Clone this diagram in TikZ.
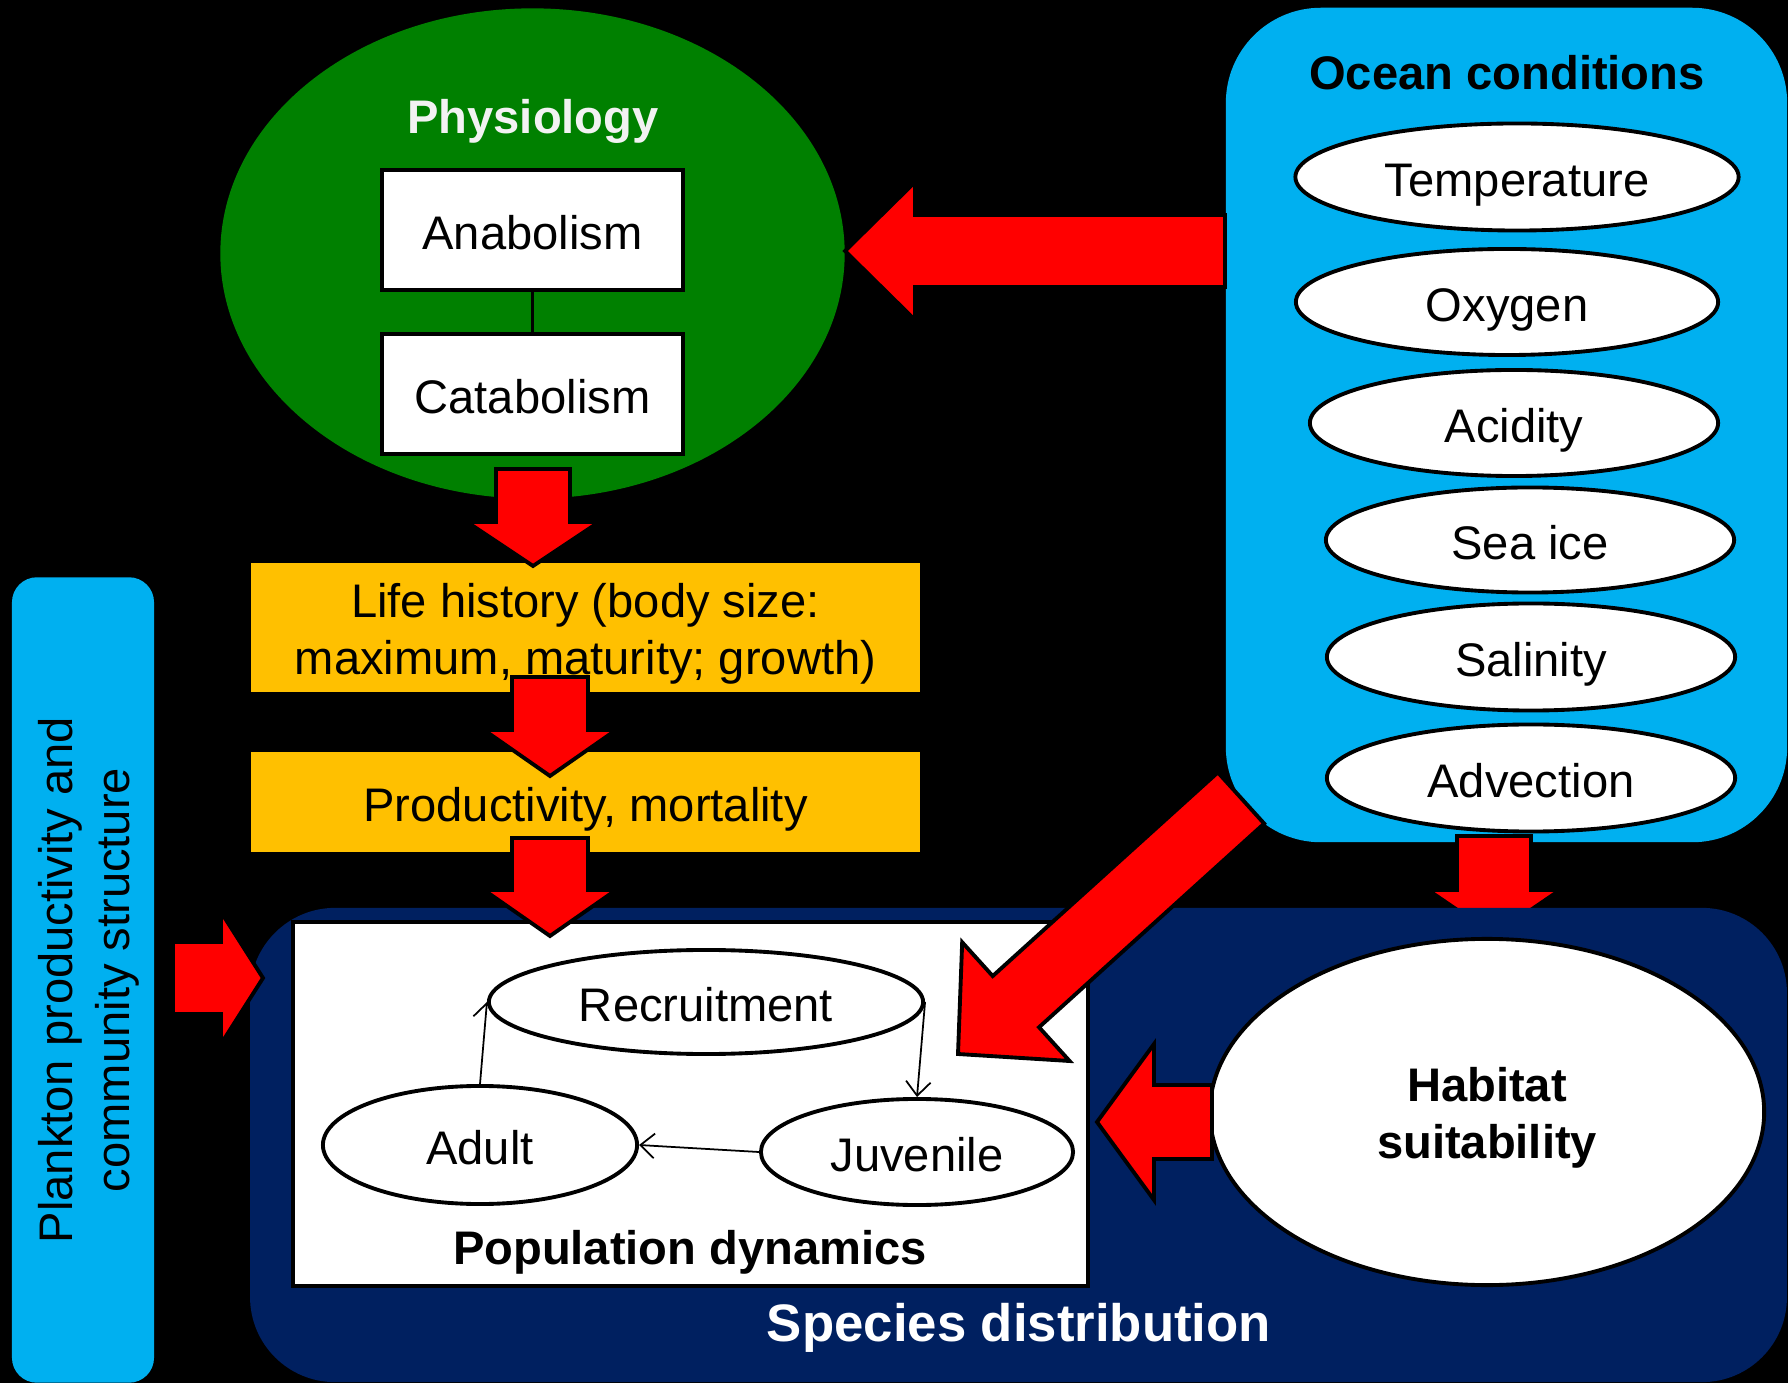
\documentclass[tikz,border=0pt]{standalone}
\usepackage{fontspec}
\setmainfont{Liberation Sans}
\usetikzlibrary{shapes.geometric,calc,arrows.meta}
\definecolor{phygreen}{RGB}{0,128,0}
\definecolor{oceanblue}{RGB}{0,176,240}
\definecolor{lifeyellow}{RGB}{255,192,0}
\definecolor{navyblue}{RGB}{0,32,96}
\definecolor{offwhite}{RGB}{242,242,242}
% block arrow: tail, tip, shaft half width, head half width, head length
\newcommand\blockarr[5]{%
  \coordinate (ba-h) at ($(#2)!#5!(#1)$);
  \path[redarrow] ($(#1)!#3!90:(#2)$) -- ($(ba-h)!#3!90:(#2)$) -- ($(ba-h)!#4!90:(#2)$) -- (#2)
    -- ($(ba-h)!#4!-90:(#2)$) -- ($(ba-h)!#3!-90:(#2)$) -- ($(#1)!#3!-90:(#2)$) -- cycle;
}
\tikzset{
  mtxt/.style={font=\fontsize{13.4}{16.2}\selectfont, inner sep=0pt},
  txt/.style={mtxt, text height=11pt, text depth=0pt},
  btxt/.style={font=\fontsize{13.4}{16.2}\selectfont\bfseries, inner sep=0pt, text height=11pt, text depth=0pt},
  whitebox/.style={draw=black, fill=white, line width=1.1pt, txt},
  oval/.style={ellipse, draw=black, fill=white, line width=1.1pt, txt},
  redarrow/.style={fill=red, draw=black, line width=1.1pt, line join=miter},
  smallarr/.style={-{Straight Barb[length=4pt,width=7pt]}, line width=0.5pt},
  yellowbox/.style={fill=lifeyellow, txt},
}
\begin{document}
\begin{tikzpicture}[x=0.01cm,y=-0.01cm]
\fill[black] (0,0) rectangle (1788,1383);
\useasboundingbox (0,0) rectangle (1788,1383);

% Physiology
\node[ellipse, fill=phygreen, minimum width=6.24cm, minimum height=4.90cm, inner sep=0pt] (phys) at (532.5,253.5) {};
\node[btxt, text=offwhite] (physl) at (533,114) {Physiology};
\node[whitebox, minimum width=3.01cm, minimum height=1.20cm] (ana) at (532.5,230) {Anabolism};
\node[whitebox, minimum width=3.01cm, minimum height=1.20cm] (cata) at (532.5,394) {Catabolism};
\draw[line width=1pt] (ana) -- (cata);

% Ocean conditions
\node[fill=oceanblue, rounded corners=0.95cm, minimum width=5.61cm, minimum height=8.34cm, inner sep=0pt] (ocean) at (1506.5,425) {};
\node[btxt] (oceanl) at (1507,70) {Ocean conditions};
\node[oval, minimum width=4.43cm, minimum height=1.07cm] (temp) at (1517,177) {Temperature};
\node[oval, minimum width=4.22cm, minimum height=1.06cm] (oxy) at (1507,302) {Oxygen};
\node[oval, minimum width=4.08cm, minimum height=1.06cm] (acid) at (1514,423) {Acidity};
\node[oval, minimum width=4.08cm, minimum height=1.05cm] (ice) at (1530,540) {Sea ice};
\node[oval, minimum width=4.08cm, minimum height=1.07cm] (sal) at (1531,657) {Salinity};
\node[oval, minimum width=4.08cm, minimum height=1.07cm] (adv) at (1531,778) {Advection};

% Life history & productivity
\node[yellowbox, minimum width=6.69cm, minimum height=1.29cm] (life) at (585.5,627.5) {};
\node[mtxt, align=center] (lifel) at (585.5,633.5) {Life history (body size:\\maximum, maturity; growth)};
\node[yellowbox, minimum width=6.69cm, minimum height=1.00cm] (prod) at (585.5,802) {Productivity, mortality};

% Plankton
\node[fill=oceanblue, rounded corners=0.25cm, minimum width=1.42cm, minimum height=8.05cm, inner sep=0pt] (plank) at (83,980) {};
\node[mtxt, rotate=90, align=center] (plankl) at (89,980) {Plankton productivity and\\community structure};

% Advection -> species distribution (behind the box)
\coordinate (a7t) at (1494,836);
\coordinate (a7h) at (1494,935);
\blockarr{a7t}{a7h}{0.37cm}{0.66cm}{0.45cm}

% Species distribution
\node[fill=navyblue, rounded corners=0.85cm, minimum width=15.36cm, minimum height=4.74cm, inner sep=0pt] (species) at (1018.5,1145) {};
\node[font=\fontsize{15}{18}\selectfont\bfseries, text=white, inner sep=0pt, text height=11pt, text depth=0pt] (speciesl) at (1019,1322) {Species distribution};

% Population dynamics
\node[whitebox, minimum width=7.95cm, minimum height=3.64cm] (pop) at (690.5,1104) {};
\node[btxt] (popl) at (690,1245) {Population dynamics};
\node[oval, minimum width=4.34cm, minimum height=1.04cm] (rec) at (706,1002) {Recruitment};
\node[oval, minimum width=3.14cm, minimum height=1.18cm] (adult) at (480,1145) {Adult};
\node[oval, minimum width=3.12cm, minimum height=1.06cm] (juv) at (917,1152) {Juvenile};
\draw[smallarr] (adult.north) -- (rec.west);
\draw[smallarr] (rec.east) -- (juv.north);
\draw[smallarr] (juv.west) -- (adult.east);

% Habitat suitability
\node[oval, minimum width=5.54cm, minimum height=3.46cm] (hab) at (1487,1112) {};
\node[font=\fontsize{13.4}{16.2}\selectfont\bfseries, inner sep=0pt, align=center] (habl) at (1487,1118) {Habitat\\suitability};

% Red block arrows
\coordinate (a1t) at (1225,251);
\coordinate (a1h) at (845,251);
\blockarr{a1t}{a1h}{0.36cm}{0.69cm}{0.70cm}
\coordinate (a2t) at (533,469);
\coordinate (a2h) at (533,566);
\blockarr{a2t}{a2h}{0.37cm}{0.66cm}{0.44cm}
\coordinate (a3t) at (550,677);
\coordinate (a3h) at (550,776);
\blockarr{a3t}{a3h}{0.38cm}{0.66cm}{0.46cm}
\coordinate (a4t) at (550,838);
\coordinate (a4h) at (550,936);
\blockarr{a4t}{a4h}{0.38cm}{0.66cm}{0.46cm}
\coordinate (a5t) at (173,978);
\coordinate (a5h) at (263,978);
\blockarr{a5t}{a5h}{0.36cm}{0.66cm}{0.42cm}
\coordinate (a6t) at (1212,1122);
\coordinate (a6h) at (1097,1122);
\blockarr{a6t}{a6h}{0.37cm}{0.78cm}{0.57cm}
\coordinate (a8t) at (1241,798);
\coordinate (a8h) at (958,1054);
\blockarr{a8t}{a8h}{0.345cm}{0.80cm}{0.78cm}
\end{tikzpicture}
\end{document}
